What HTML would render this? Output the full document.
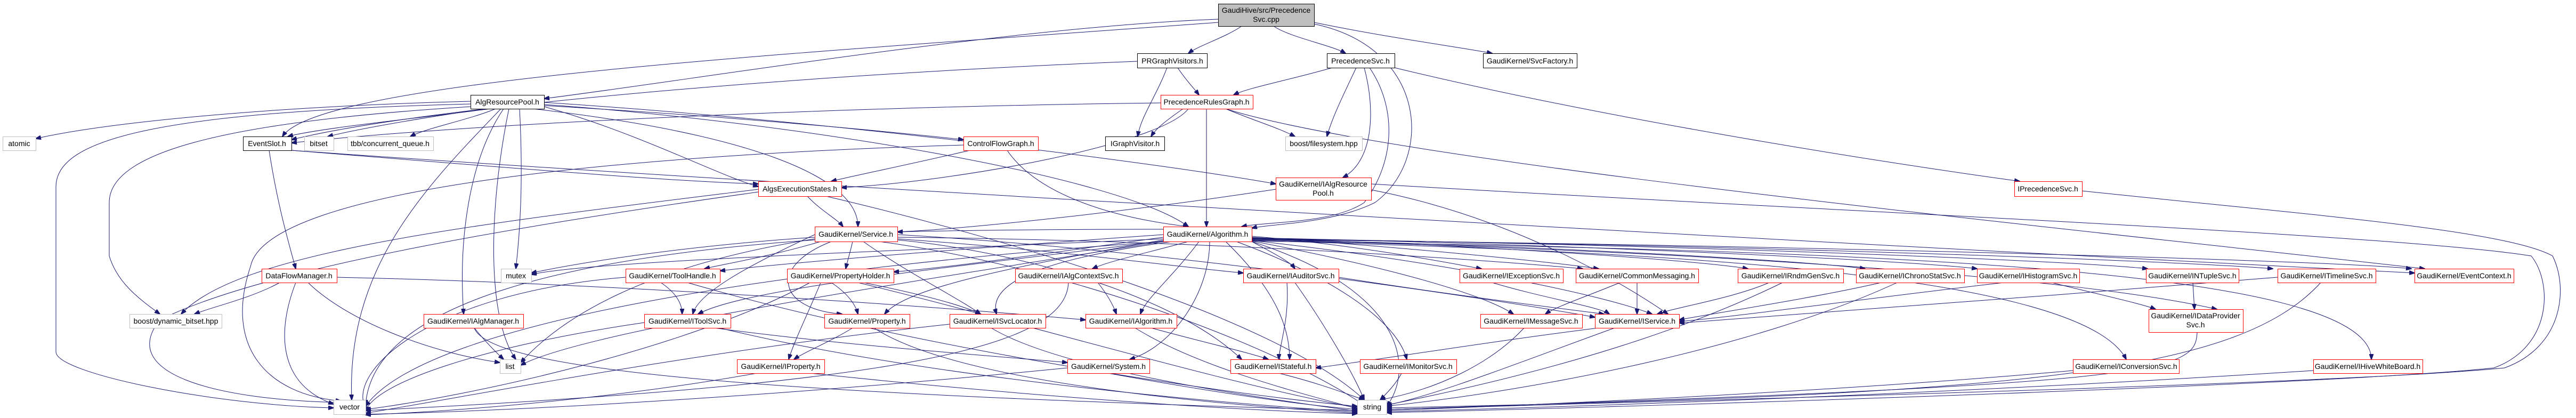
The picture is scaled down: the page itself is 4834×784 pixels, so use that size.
<!DOCTYPE html>
<html><head><meta charset="utf-8"><style>
html,body{margin:0;padding:0;background:#fff;}
svg{display:block;}
text{font-family:"Liberation Sans",sans-serif;font-size:14px;fill:#000;}
.e{fill:none;stroke:#191970;stroke-width:1;marker-end:url(#a);}
.k{fill:#fff;stroke:#000;}
.r{fill:#fff;stroke:#ff0000;}
.g{fill:#fff;stroke:#bfbfbf;}
</style></head><body>
<svg width="4834" height="784" viewBox="0 0 4834 784" xmlns="http://www.w3.org/2000/svg">
<defs><marker id="a" markerWidth="11" markerHeight="8" refX="10" refY="4" orient="auto" markerUnits="userSpaceOnUse"><path d="M0,0 L11,4 L0,8 z" fill="#191970" stroke="#191970"/></marker></defs>
<g>
<path class="e" d="M2330 49 C2300 70 2250 85 2230 100"/>
<path class="e" d="M2390 49 C2420 70 2500 85 2525 100"/>
<path class="e" d="M2466 42 C2600 70 2750 90 2800 100"/>
<path class="e" d="M2286 36 C1900 50 1300 150 1021 185"/>
<path class="e" d="M2286 42 C1500 100 600 150 530 256"/>
<path class="e" d="M2466 45 C2680 90 2690 300 2580 380 C2500 420 2380 420 2349 428"/>
<path class="e" d="M2190 127 C2170 180 2140 220 2135 256"/>
<path class="e" d="M2210 127 C2225 150 2240 165 2250 178"/>
<path class="e" d="M2134 115 C1500 140 800 200 547 262"/>
<path class="e" d="M2500 127 C2420 150 2340 165 2315 178"/>
<path class="e" d="M2545 127 C2520 180 2500 220 2490 256"/>
<path class="e" d="M2560 127 C2580 200 2580 300 2520 333"/>
<path class="e" d="M2617 127 C3000 220 3500 300 3790 340"/>
<path class="e" d="M2570 127 C2620 200 2620 300 2560 380 C2500 420 2380 415 2330 425"/>
<path class="e" d="M2178 193 C1600 200 900 230 547 268"/>
<path class="e" d="M2220 204 C2190 225 2170 240 2160 256"/>
<path class="e" d="M2230 204 C2180 270 1800 340 1579 352"/>
<path class="e" d="M2264 204 L2264 425"/>
<path class="e" d="M2300 204 C2350 225 2400 240 2430 256"/>
<path class="e" d="M2300 204 C2600 300 3800 420 4550 504"/>
<path class="e" d="M883 190 C500 200 200 230 67 260"/>
<path class="e" d="M920 204 C800 220 600 240 540 256"/>
<path class="e" d="M910 204 C800 220 680 240 615 256"/>
<path class="e" d="M930 204 C880 225 800 240 770 256"/>
<path class="e" d="M975 204 C980 300 980 400 968 504"/>
<path class="e" d="M955 204 C915 400 915 600 968 674"/>
<path class="e" d="M940 204 C800 350 650 500 660 750"/>
<path class="e" d="M883 195 C300 210 105 260 105 350 L105 660 C105 700 400 760 626 765"/>
<path class="e" d="M883 200 C400 230 205 290 205 380 L205 480 C220 530 260 560 300 589"/>
<path class="e" d="M945 204 C880 300 860 450 870 589"/>
<path class="e" d="M1021 198 C1400 220 1700 250 1808 262"/>
<path class="e" d="M1021 192 C1600 230 2200 310 2394 345"/>
<path class="e" d="M1021 196 C1500 230 2100 330 2230 425"/>
<path class="e" d="M1021 200 C1200 250 1350 330 1423 350"/>
<path class="e" d="M1000 204 C1400 250 1610 330 1610 425"/>
<path class="e" d="M505 282 C520 380 540 450 555 504"/>
<path class="e" d="M547 282 C900 310 1250 340 1423 345"/>
<path class="e" d="M547 282 C1500 350 3500 460 4531 512"/>
<path class="e" d="M525 530 C470 560 400 575 365 589"/>
<path class="e" d="M555 530 C520 620 520 720 626 758"/>
<path class="e" d="M578 530 C650 600 800 660 938 680"/>
<path class="e" d="M632 520 C1100 530 1700 570 2037 600"/>
<path class="e" d="M1820 282 C1700 310 1600 330 1560 340"/>
<path class="e" d="M1890 282 C1950 370 2100 410 2230 425"/>
<path class="e" d="M1808 272 C1200 290 500 350 470 500 C420 650 500 740 640 752"/>
<path class="e" d="M1515 368 C1540 395 1570 410 1582 425"/>
<path class="e" d="M1550 368 C1900 450 2400 600 2560 750"/>
<path class="e" d="M1423 360 C1000 420 500 500 300 600 C220 700 400 750 640 755"/>
<path class="e" d="M1423 355 C900 420 450 470 340 589"/>
<path class="e" d="M2394 355 C2100 400 1800 430 1684 435"/>
<path class="e" d="M2573 356 C2800 400 3000 500 3130 589"/>
<path class="e" d="M3907 358 C4300 400 4700 430 4790 480 C4820 540 4810 650 4700 690 C4400 720 3200 750 2602 768"/>
<path class="e" d="M2573 345 C3500 400 4500 440 4750 480 C4790 530 4790 650 4680 690 C4400 720 3200 760 2602 774"/>
<path class="e" d="M1540 453 C1450 480 1360 495 1322 504"/>
<path class="e" d="M1600 453 C1595 475 1590 490 1587 504"/>
<path class="e" d="M1560 453 C1440 500 1460 580 1580 589"/>
<path class="e" d="M1620 453 C1700 510 1800 560 1840 589"/>
<path class="e" d="M1684 440 C2200 470 2800 560 2993 595"/>
<path class="e" d="M1684 445 C2200 450 2700 480 2970 504"/>
<path class="e" d="M1684 448 C2000 470 2200 500 2333 512"/>
<path class="e" d="M1529 445 C1300 460 1100 490 997 512"/>
<path class="e" d="M1529 450 C1100 480 700 560 686 760"/>
<path class="e" d="M1529 448 C1200 500 1050 600 977 680"/>
<path class="e" d="M1684 450 C1900 470 2200 550 2330 674"/>
<path class="e" d="M1650 453 C2000 500 2400 650 2560 760"/>
<path class="e" d="M1529 440 C1400 500 1310 550 1300 589"/>
<path class="e" d="M2183 430 C2000 430 1800 432 1684 435"/>
<path class="e" d="M2183 440 C1900 460 1500 490 1351 508"/>
<path class="e" d="M2183 445 C2000 470 1800 500 1677 510"/>
<path class="e" d="M2230 453 C2150 475 2080 490 2050 504"/>
<path class="e" d="M2349 453 C2390 475 2420 490 2430 504"/>
<path class="e" d="M2349 443 C2550 460 2700 490 2780 504"/>
<path class="e" d="M2349 445 C2600 460 2900 490 3000 504"/>
<path class="e" d="M2349 447 C2800 460 3200 490 3280 504"/>
<path class="e" d="M2349 449 C2900 460 3400 490 3500 504"/>
<path class="e" d="M2349 446 C3000 460 3600 490 3710 504"/>
<path class="e" d="M2349 447 C3200 460 3900 490 4030 504"/>
<path class="e" d="M2349 448 C3300 460 4100 490 4265 504"/>
<path class="e" d="M2349 449 C3400 460 4400 490 4525 504"/>
<path class="e" d="M2250 453 C2200 520 2150 560 2140 589"/>
<path class="e" d="M2270 453 C2270 550 2200 650 2120 674"/>
<path class="e" d="M2200 453 C2000 480 1850 520 1870 589"/>
<path class="e" d="M2183 450 C1900 500 1700 540 1660 589"/>
<path class="e" d="M2183 448 C1700 470 1100 490 997 515"/>
<path class="e" d="M2300 453 C2400 550 2420 620 2420 674"/>
<path class="e" d="M2320 453 C2500 520 2620 600 2640 674"/>
<path class="e" d="M2349 450 C3200 470 3900 520 4160 580"/>
<path class="e" d="M2349 451 C3000 470 3900 500 3990 674"/>
<path class="e" d="M2349 452 C3500 470 4450 500 4450 674"/>
<path class="e" d="M2349 451 C2700 490 3000 550 3100 589"/>
<path class="e" d="M2349 452 C2600 500 2780 550 2840 589"/>
<path class="e" d="M2183 452 C1800 500 1400 540 1310 589"/>
<path class="e" d="M2183 453 C1500 500 800 600 686 762"/>
<path class="e" d="M2183 453 C1700 530 1100 620 977 685"/>
<path class="e" d="M2349 453 C2650 550 2650 700 2602 762"/>
<path class="e" d="M1240 530 C1270 550 1280 570 1280 589"/>
<path class="e" d="M1290 530 C1700 650 2300 740 2547 762"/>
<path class="e" d="M1174 520 C800 550 650 700 686 765"/>
<path class="e" d="M1560 530 C1590 550 1605 570 1610 589"/>
<path class="e" d="M1540 530 C1520 580 1490 640 1480 674"/>
<path class="e" d="M1620 530 C1720 550 1800 570 1840 589"/>
<path class="e" d="M1520 530 C1300 650 900 740 686 768"/>
<path class="e" d="M1610 530 C1900 600 2300 720 2547 765"/>
<path class="e" d="M2060 530 C2080 555 2090 575 2095 589"/>
<path class="e" d="M2005 530 C2000 650 1700 720 686 770"/>
<path class="e" d="M2415 530 C2420 600 2400 650 2400 674"/>
<path class="e" d="M2430 530 C2480 600 2540 700 2560 750"/>
<path class="e" d="M2512 520 C2700 550 2900 575 3010 589"/>
<path class="e" d="M2800 530 C2900 560 3000 575 3020 589"/>
<path class="e" d="M3040 530 C2980 555 2920 575 2900 589"/>
<path class="e" d="M3072 530 L3072 589"/>
<path class="e" d="M3320 530 C3250 560 3150 575 3110 589"/>
<path class="e" d="M3345 530 C3100 650 2800 720 2600 760"/>
<path class="e" d="M3530 530 C3400 560 3200 590 3151 600"/>
<path class="e" d="M3560 530 C3300 650 2900 730 2600 762"/>
<path class="e" d="M3760 530 C3500 560 3250 595 3151 603"/>
<path class="e" d="M3850 530 C3950 555 4020 570 4045 580"/>
<path class="e" d="M4115 530 L4118 580"/>
<path class="e" d="M4274 520 C3900 550 3400 590 3151 606"/>
<path class="e" d="M4355 530 C4200 700 3800 740 2602 765"/>
<path class="e" d="M4123 624 C4120 700 4050 720 2602 768"/>
<path class="e" d="M890 615 C910 640 930 660 945 674"/>
<path class="e" d="M890 615 C920 700 1500 740 2547 770"/>
<path class="e" d="M1209 605 C900 650 700 720 686 772"/>
<path class="e" d="M1340 615 C1600 650 1900 670 2003 680"/>
<path class="e" d="M1350 615 C1700 700 2200 750 2547 773"/>
<path class="e" d="M1600 615 C1560 640 1510 660 1490 674"/>
<path class="e" d="M1640 615 C1800 720 2300 760 2547 775"/>
<path class="e" d="M1860 615 C2000 700 2400 750 2550 772"/>
<path class="e" d="M1782 608 C1300 660 900 740 686 775"/>
<path class="e" d="M2130 615 C2250 690 2450 740 2560 770"/>
<path class="e" d="M2160 615 C2250 640 2340 660 2380 674"/>
<path class="e" d="M2860 615 C2800 680 2700 730 2590 750"/>
<path class="e" d="M3030 615 C2850 680 2700 740 2602 760"/>
<path class="e" d="M3000 615 C2800 640 2550 680 2469 690"/>
<path class="e" d="M1420 700 C1200 740 900 770 686 778"/>
<path class="e" d="M1520 700 C1900 740 2300 770 2547 776"/>
<path class="e" d="M2080 700 C2300 740 2450 760 2547 768"/>
<path class="e" d="M2003 690 C1500 740 1000 770 686 777"/>
<path class="e" d="M2400 700 C2480 720 2530 740 2560 750"/>
<path class="e" d="M2630 700 C2620 720 2600 740 2590 750"/>
<path class="e" d="M3890 695 C3500 730 3000 755 2602 770"/>
<path class="e" d="M4341 695 C3800 730 3100 760 2602 772"/>
</g>
<g>
<rect x="2286.5" y="7.5" width="180" height="42" fill="#bfbfbf" stroke="#000"/>
<text x="2376" y="24" text-anchor="middle">GaudiHive/src/Precedence</text>
<text x="2376" y="41" text-anchor="middle">Svc.cpp</text>

<rect class="k" x="2134.5" y="100.5" width="131" height="27"/><text x="2200" y="119" text-anchor="middle">PRGraphVisitors.h</text>
<rect class="k" x="2490.5" y="100.5" width="127" height="27"/><text x="2553" y="119" text-anchor="middle">PrecedenceSvc.h</text>
<rect class="k" x="2783.5" y="100.5" width="176" height="27"/><text x="2871" y="119" text-anchor="middle">GaudiKernel/SvcFactory.h</text>

<rect class="k" x="883.5" y="178.5" width="138" height="26"/><text x="952" y="196" text-anchor="middle">AlgResourcePool.h</text>
<rect class="r" x="2178.5" y="178.5" width="173" height="26"/><text x="2264" y="196" text-anchor="middle">PrecedenceRulesGraph.h</text>

<rect class="g" x="5.5" y="256.5" width="62" height="26"/><text x="36" y="274" text-anchor="middle">atomic</text>
<rect class="k" x="456.5" y="256.5" width="91" height="26"/><text x="501" y="274" text-anchor="middle">EventSlot.h</text>
<rect class="g" x="571.5" y="256.5" width="55" height="26"/><text x="598" y="274" text-anchor="middle">bitset</text>
<rect class="g" x="652.5" y="256.5" width="161" height="26"/><text x="732" y="274" text-anchor="middle">tbb/concurrent_queue.h</text>
<rect class="r" x="1808.5" y="256.5" width="140" height="26"/><text x="1878" y="274" text-anchor="middle">ControlFlowGraph.h</text>
<rect class="k" x="2074.5" y="256.5" width="111" height="26"/><text x="2130" y="274" text-anchor="middle">IGraphVisitor.h</text>
<rect class="g" x="2412.5" y="256.5" width="144" height="26"/><text x="2484" y="274" text-anchor="middle">boost/filesystem.hpp</text>

<rect class="r" x="1423.5" y="340.5" width="156" height="28"/><text x="1501" y="359" text-anchor="middle">AlgsExecutionStates.h</text>
<rect class="r" x="2394.5" y="333.5" width="179" height="42"/><text x="2483" y="350" text-anchor="middle">GaudiKernel/IAlgResource</text><text x="2483" y="367" text-anchor="middle">Pool.h</text>
<rect class="r" x="3780.5" y="340.5" width="127" height="28"/><text x="3843" y="359" text-anchor="middle">IPrecedenceSvc.h</text>

<rect class="r" x="1529.5" y="425.5" width="155" height="28"/><text x="1606" y="444" text-anchor="middle">GaudiKernel/Service.h</text>
<rect class="r" x="2183.5" y="425.5" width="166" height="28"/><text x="2266" y="444" text-anchor="middle">GaudiKernel/Algorithm.h</text>

<rect class="r" x="491.5" y="504.5" width="141" height="26"/><text x="561" y="522" text-anchor="middle">DataFlowManager.h</text>
<rect class="g" x="940.5" y="504.5" width="57" height="26"/><text x="968" y="522" text-anchor="middle">mutex</text>
<rect class="r" x="1174.5" y="504.5" width="177" height="26"/><text x="1262" y="522" text-anchor="middle">GaudiKernel/ToolHandle.h</text>
<rect class="r" x="1477.5" y="504.5" width="200" height="26"/><text x="1577" y="522" text-anchor="middle">GaudiKernel/PropertyHolder.h</text>
<rect class="r" x="1905.5" y="504.5" width="201" height="26"/><text x="2005" y="522" text-anchor="middle">GaudiKernel/IAlgContextSvc.h</text>
<rect class="r" x="2333.5" y="504.5" width="179" height="26"/><text x="2422" y="522" text-anchor="middle">GaudiKernel/IAuditorSvc.h</text>
<rect class="r" x="2739.5" y="504.5" width="194" height="26"/><text x="2836" y="522" text-anchor="middle">GaudiKernel/IExceptionSvc.h</text>
<rect class="r" x="2957.5" y="504.5" width="230" height="26"/><text x="3072" y="522" text-anchor="middle">GaudiKernel/CommonMessaging.h</text>
<rect class="r" x="3261.5" y="504.5" width="198" height="26"/><text x="3360" y="522" text-anchor="middle">GaudiKernel/IRndmGenSvc.h</text>
<rect class="r" x="3483.5" y="504.5" width="203" height="26"/><text x="3584" y="522" text-anchor="middle">GaudiKernel/IChronoStatSvc.h</text>
<rect class="r" x="3710.5" y="504.5" width="192" height="26"/><text x="3806" y="522" text-anchor="middle">GaudiKernel/IHistogramSvc.h</text>
<rect class="r" x="4027.5" y="504.5" width="174" height="26"/><text x="4114" y="522" text-anchor="middle">GaudiKernel/INTupleSvc.h</text>
<rect class="r" x="4274.5" y="504.5" width="184" height="26"/><text x="4366" y="522" text-anchor="middle">GaudiKernel/ITimelineSvc.h</text>
<rect class="r" x="4531.5" y="504.5" width="186" height="26"/><text x="4624" y="522" text-anchor="middle">GaudiKernel/EventContext.h</text>

<rect class="g" x="243.5" y="589.5" width="173" height="26"/><text x="330" y="607" text-anchor="middle">boost/dynamic_bitset.hpp</text>
<rect class="r" x="795.5" y="589.5" width="187" height="26"/><text x="888" y="607" text-anchor="middle">GaudiKernel/IAlgManager.h</text>
<rect class="r" x="1209.5" y="589.5" width="162" height="26"/><text x="1290" y="607" text-anchor="middle">GaudiKernel/IToolSvc.h</text>
<rect class="r" x="1547.5" y="589.5" width="160" height="26"/><text x="1627" y="607" text-anchor="middle">GaudiKernel/Property.h</text>
<rect class="r" x="1782.5" y="589.5" width="180" height="26"/><text x="1872" y="607" text-anchor="middle">GaudiKernel/ISvcLocator.h</text>
<rect class="r" x="2037.5" y="589.5" width="171" height="26"/><text x="2122" y="607" text-anchor="middle">GaudiKernel/IAlgorithm.h</text>
<rect class="r" x="2778.5" y="589.5" width="191" height="26"/><text x="2873" y="607" text-anchor="middle">GaudiKernel/IMessageSvc.h</text>
<rect class="r" x="2993.5" y="589.5" width="158" height="26"/><text x="3072" y="607" text-anchor="middle">GaudiKernel/IService.h</text>
<rect class="r" x="4032.5" y="580.5" width="177" height="43"/><text x="4120" y="597" text-anchor="middle">GaudiKernel/IDataProvider</text><text x="4120" y="614" text-anchor="middle">Svc.h</text>

<rect class="g" x="938.5" y="674.5" width="39" height="26"/><text x="957" y="692" text-anchor="middle">list</text>
<rect class="r" x="1383.5" y="674.5" width="164" height="26"/><text x="1465" y="692" text-anchor="middle">GaudiKernel/IProperty.h</text>
<rect class="r" x="2003.5" y="674.5" width="154" height="26"/><text x="2080" y="692" text-anchor="middle">GaudiKernel/System.h</text>
<rect class="r" x="2309.5" y="674.5" width="160" height="26"/><text x="2389" y="692" text-anchor="middle">GaudiKernel/IStateful.h</text>
<rect class="r" x="2552.5" y="674.5" width="181" height="26"/><text x="2642" y="692" text-anchor="middle">GaudiKernel/IMonitorSvc.h</text>
<rect class="r" x="3890.5" y="674.5" width="199" height="26"/><text x="3990" y="692" text-anchor="middle">GaudiKernel/IConversionSvc.h</text>
<rect class="r" x="4341.5" y="674.5" width="205" height="26"/><text x="4443" y="692" text-anchor="middle">GaudiKernel/IHiveWhiteBoard.h</text>

<rect class="g" x="626.5" y="750.5" width="60" height="27"/><text x="656" y="768" text-anchor="middle">vector</text>
<rect class="g" x="2547.5" y="750.5" width="55" height="27"/><text x="2575" y="768" text-anchor="middle">string</text>
</g>
</svg>
</body></html>
